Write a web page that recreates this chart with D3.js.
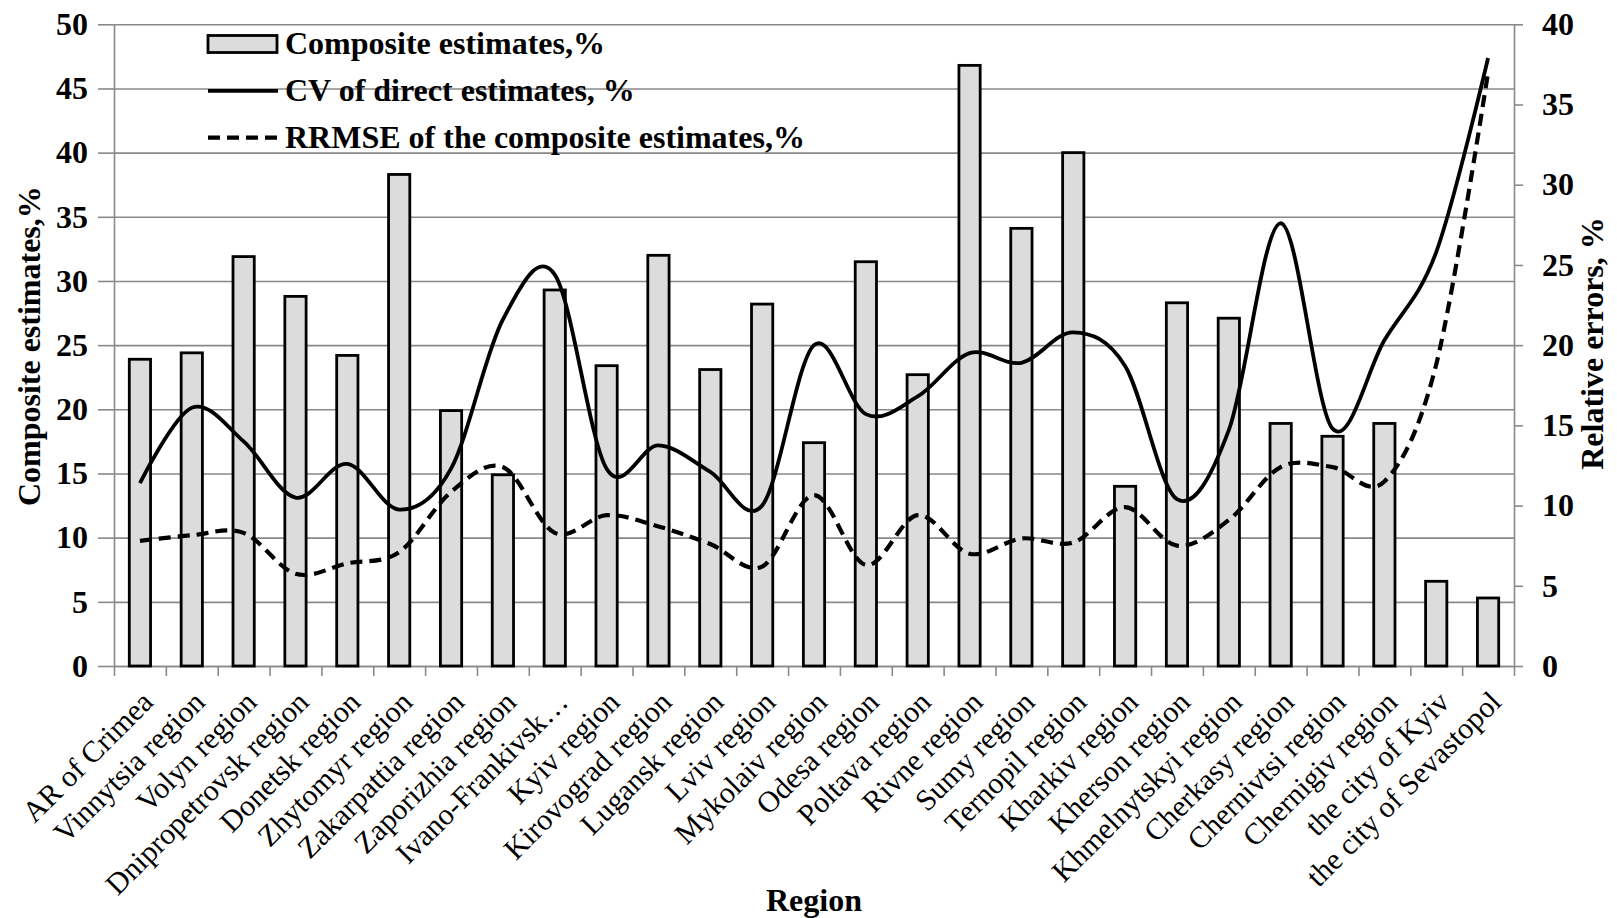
<!DOCTYPE html>
<html>
<head>
<meta charset="utf-8">
<script src="https://cdn.jsdelivr.net/npm/d3@7"></script>
<style>
  html, body { margin: 0; padding: 0; background: #fff; }
  svg { display: block; }
  text { font-family: "Liberation Serif", "Times New Roman", serif; fill: #000; }
</style>
</head>
<body>
<svg id="chart" width="1617" height="918"></svg>
<script>
// Regions of Ukraine
const regions = [
  "AR of Crimea", "Vinnytsia region", "Volyn region", "Dnipropetrovsk region",
  "Donetsk region", "Zhytomyr region", "Zakarpattia region", "Zaporizhia region",
  "Ivano-Frankivsk…", "Kyiv region", "Kirovograd region", "Lugansk region",
  "Lviv region", "Mykolaiv region", "Odesa region", "Poltava region",
  "Rivne region", "Sumy region", "Ternopil region", "Kharkiv region",
  "Kherson region", "Khmelnytskyi region", "Cherkasy region", "Chernivtsi region",
  "Chernigiv region", "the city of Kyiv", "the city of Sevastopol"
];

// Composite estimates, % (left axis)
const composite = [
  23.9, 24.4, 31.9, 28.8, 24.2, 38.3, 19.9, 14.9, 29.3, 23.4,
  32.0, 23.1, 28.2, 17.4, 31.5, 22.7, 46.8, 34.1, 40.0, 14.0,
  28.3, 27.1, 18.9, 17.9, 18.9, 6.6, 5.3
];

// CV of direct estimates, % (right axis)
const cvDirect = [
  11.4, 16.1, 14.0, 10.5, 12.6, 9.75, 12.3, 21.6, 24.4, 12.3,
  13.75, 12.1, 10.0, 20.0, 15.7, 16.8, 19.5, 18.9, 20.8, 18.7,
  10.4, 14.7, 27.6, 14.8, 20.3, 25.8, 37.9
];

// RRMSE of the composite estimates, % (right axis)
const rrmse = [
  7.8, 8.15, 8.3, 5.75, 6.4, 7.1, 10.85, 12.4, 8.3, 9.4,
  8.7, 7.6, 6.2, 10.65, 6.3, 9.4, 7.0, 7.95, 7.7, 9.9,
  7.5, 9.1, 12.4, 12.4, 11.5, 18.8, 37.0
];

const leftTicks = [0, 5, 10, 15, 20, 25, 30, 35, 40, 45, 50];
const rightTicks = [0, 5, 10, 15, 20, 25, 30, 35, 40];

const legendItems = [
  { label: "Composite estimates,%", kind: "bar" },
  { label: "CV of direct estimates, %", kind: "solid" },
  { label: "RRMSE of the composite estimates,%", kind: "dashed" }
];

const plot = { left: 114, right: 1514, top: 24.3, bottom: 666 };
const gridColor = "#898989";
const boldSize = 32;

const svg = d3.select("#chart");

const x = d3.scaleBand().domain(regions).range([plot.left, plot.right]).padding(0);
const xEdge = d3.scaleLinear().domain([0, regions.length]).range([plot.left, plot.right]);
const yL = d3.scaleLinear().domain([0, 50]).range([plot.bottom, plot.top]);
const yR = d3.scaleLinear().domain([0, 40]).range([plot.bottom, plot.top]);

// horizontal gridlines
svg.append("g")
  .attr("transform", `translate(${plot.left},0)`)
  .call(d3.axisLeft(yL).tickValues(leftTicks).tickSize(-(plot.right - plot.left)).tickFormat(""))
  .call(g => g.select(".domain").remove())
  .call(g => g.selectAll("line").attr("stroke", gridColor).attr("stroke-width", 1.6));

// left axis
svg.append("g")
  .attr("transform", `translate(${plot.left},0)`)
  .call(d3.axisLeft(yL).tickValues(leftTicks).tickSize(16).tickPadding(10).tickSizeOuter(0))
  .call(g => g.select(".domain").attr("stroke", gridColor).attr("stroke-width", 1.6))
  .call(g => g.selectAll("line").attr("stroke", gridColor).attr("stroke-width", 1.6))
  .call(g => g.selectAll("text")
    .attr("font-family", "Liberation Serif, Times New Roman, serif")
    .attr("font-weight", "bold").attr("font-size", boldSize).attr("fill", "#000"));

// right axis
svg.append("g")
  .attr("transform", `translate(${plot.right},0)`)
  .call(d3.axisRight(yR).tickValues(rightTicks).tickSize(9).tickPadding(19).tickSizeOuter(0))
  .call(g => g.select(".domain").attr("stroke", gridColor).attr("stroke-width", 1.6))
  .call(g => g.selectAll("line").attr("stroke", gridColor).attr("stroke-width", 1.6))
  .call(g => g.selectAll("text")
    .attr("font-family", "Liberation Serif, Times New Roman, serif")
    .attr("font-weight", "bold").attr("font-size", boldSize).attr("fill", "#000"));

// category boundary ticks along the bottom
svg.append("g")
  .attr("transform", `translate(0,${plot.bottom})`)
  .call(d3.axisBottom(xEdge).tickValues(d3.range(regions.length + 1)).tickSize(10).tickFormat("").tickSizeOuter(0))
  .call(g => g.select(".domain").attr("stroke", gridColor).attr("stroke-width", 1.6))
  .call(g => g.selectAll("line").attr("stroke", gridColor).attr("stroke-width", 1.6));

// bars
const barW = x.bandwidth() * 0.41;
svg.append("g").selectAll("rect")
  .data(composite)
  .join("rect")
  .attr("x", (d, i) => x(regions[i]) + (x.bandwidth() - barW) / 2)
  .attr("y", d => yL(d))
  .attr("width", barW)
  .attr("height", d => yL(0) - yL(d))
  .attr("fill", "#dcdcdc")
  .attr("stroke", "#000")
  .attr("stroke-width", 2.8);

// smoothed lines on the right axis
const line = d3.line()
  .x((d, i) => x(regions[i]) + x.bandwidth() / 2)
  .y(d => yR(d))
  .curve(d3.curveCatmullRom.alpha(0));

svg.append("path")
  .datum(cvDirect)
  .attr("d", line)
  .attr("fill", "none")
  .attr("stroke", "#000")
  .attr("stroke-width", 3.8);

svg.append("path")
  .datum(rrmse)
  .attr("d", line)
  .attr("fill", "none")
  .attr("stroke", "#000")
  .attr("stroke-width", 4.2)
  .attr("stroke-dasharray", "12,7");

// category labels, rotated
svg.append("g").selectAll("text")
  .data(regions)
  .join("text")
  .attr("transform", d => `translate(${x(d) + x.bandwidth() / 2},${plot.bottom + 23}) rotate(-45)`)
  .attr("text-anchor", "end")
  .attr("dy", "0.7em")
  .attr("font-size", 30)
  .text(d => d);

// axis titles
svg.append("text")
  .attr("transform", `translate(40,${(plot.top + plot.bottom) / 2 + 1}) rotate(-90)`)
  .attr("text-anchor", "middle")
  .attr("font-weight", "bold")
  .attr("font-size", boldSize)
  .text("Composite estimates,%");

svg.append("text")
  .attr("transform", "translate(1603,343.5) rotate(-90)")
  .attr("text-anchor", "middle")
  .attr("font-weight", "bold")
  .attr("font-size", boldSize)
  .text("Relative errors, %");

svg.append("text")
  .attr("x", (plot.left + plot.right) / 2)
  .attr("y", 911)
  .attr("text-anchor", "middle")
  .attr("font-weight", "bold")
  .attr("font-size", boldSize)
  .text("Region");

// legend
const legend = svg.append("g").attr("transform", "translate(208,44)");
const rowH = 46.8;
legendItems.forEach((item, i) => {
  const g = legend.append("g").attr("transform", `translate(0,${i * rowH})`);
  if (item.kind === "bar") {
    g.append("rect").attr("x", 0).attr("y", -8.5).attr("width", 69).attr("height", 17)
      .attr("fill", "#dcdcdc").attr("stroke", "#000").attr("stroke-width", 2.8);
  } else {
    g.append("line").attr("x1", 0).attr("x2", 70).attr("y1", 0).attr("y2", 0)
      .attr("stroke", "#000")
      .attr("stroke-width", item.kind === "solid" ? 3.8 : 4.2)
      .attr("stroke-dasharray", item.kind === "dashed" ? "12,7" : null);
  }
  g.append("text")
    .attr("x", 77)
    .attr("y", 10)
    .attr("font-weight", "bold")
    .attr("font-size", boldSize)
    .text(item.label);
});
</script>
</body>
</html>
